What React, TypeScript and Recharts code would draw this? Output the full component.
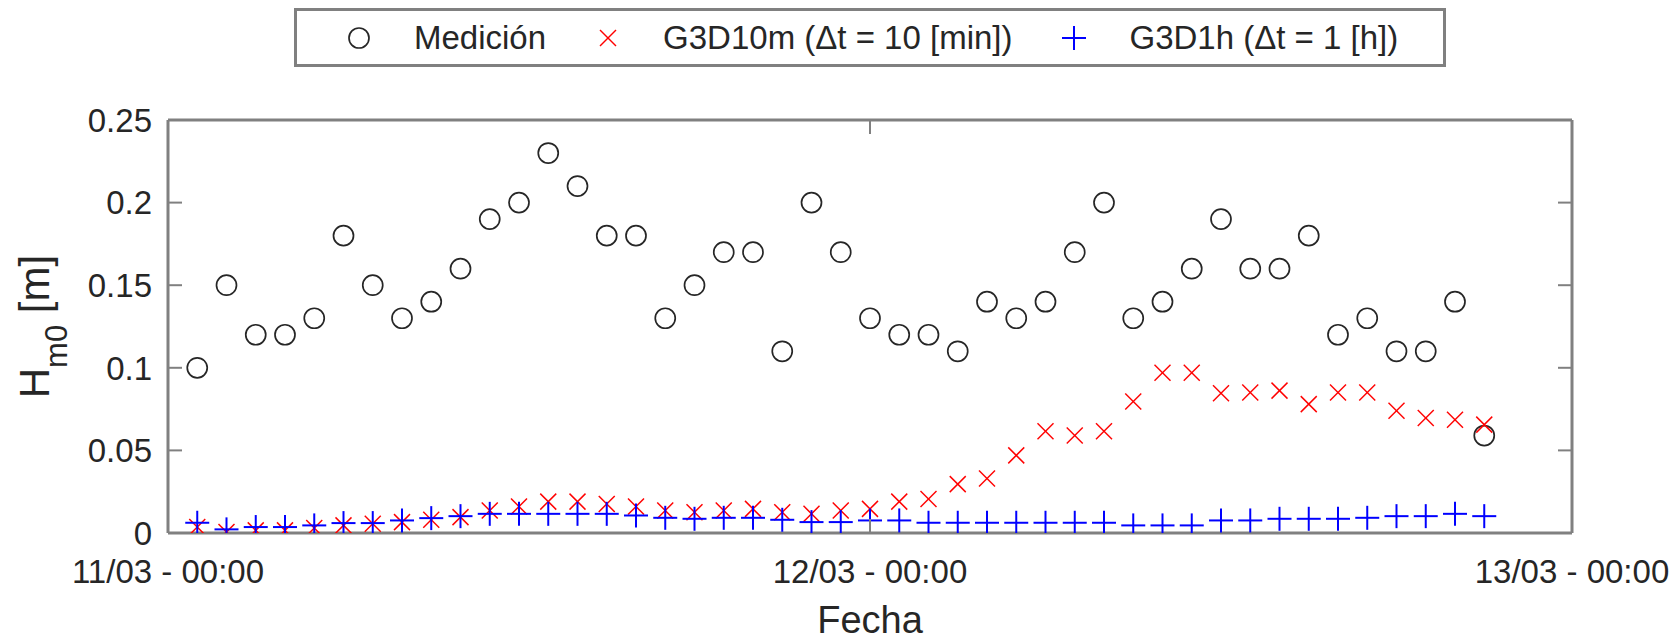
import React from "react";
import {
  ScatterChart,
  Scatter,
  XAxis,
  YAxis,
  Legend,
} from "recharts";

// hours after 11/03 - 00:00
const HOURS = [
  1, 2, 3, 4, 5, 6, 7, 8, 9, 10, 11, 12, 13, 14, 15, 16, 17, 18, 19, 20, 21, 22,
  23, 24, 25, 26, 27, 28, 29, 30, 31, 32, 33, 34, 35, 36, 37, 38, 39, 40, 41, 42,
  43, 44, 45,
];

const MEDICION = [
  0.1, 0.15, 0.12, 0.12, 0.13, 0.18, 0.15, 0.13, 0.14, 0.16, 0.19, 0.2, 0.23,
  0.21, 0.18, 0.18, 0.13, 0.15, 0.17, 0.17, 0.11, 0.2, 0.17, 0.13, 0.12, 0.12,
  0.11, 0.14, 0.13, 0.14, 0.17, 0.2, 0.13, 0.14, 0.16, 0.19, 0.16, 0.16, 0.18,
  0.12, 0.13, 0.11, 0.11, 0.14, 0.059,
];

const G3D10M = [
  0.0036, 0.0006, 0.0016, 0.0016, 0.003, 0.0046, 0.0056, 0.0066, 0.008, 0.0096,
  0.0136, 0.016, 0.019, 0.019, 0.0176, 0.016, 0.0136, 0.0126, 0.0136, 0.0146,
  0.0126, 0.0116, 0.0136, 0.0146, 0.019, 0.0206, 0.0296, 0.033, 0.047, 0.0616,
  0.059, 0.0616, 0.0796, 0.097, 0.097, 0.0846, 0.085, 0.0862, 0.078, 0.085,
  0.085, 0.074, 0.0696, 0.0686, 0.0656,
];

const G3D1H = [
  0.0062, 0.0022, 0.0036, 0.0036, 0.0046, 0.006, 0.006, 0.0076, 0.009, 0.0102,
  0.0116, 0.0116, 0.0116, 0.0116, 0.0116, 0.0106, 0.0092, 0.0086, 0.0092, 0.0092,
  0.008, 0.0066, 0.0066, 0.0076, 0.0076, 0.0062, 0.0062, 0.0062, 0.0062, 0.0062,
  0.0062, 0.0062, 0.0046, 0.0046, 0.0046, 0.0076, 0.0076, 0.0086, 0.0086, 0.0086,
  0.0092, 0.0102, 0.0102, 0.0116, 0.0102,
];

const X_TICKS = [0, 24, 48];
const X_TICK_LABELS = ["11/03 - 00:00", "12/03 - 00:00", "13/03 - 00:00"];
const Y_TICKS = [0, 0.05, 0.1, 0.15, 0.2, 0.25];

const SERIES_NAMES = ["Medición", "G3D10m (Δt = 10 [min])", "G3D1h (Δt = 1 [h])"];

const FONT = "'Liberation Sans', Arial, Helvetica, sans-serif";
const TEXT = "#262626";
const AXIS = "#808080";

const toPoints = (vals: number[]) => HOURS.map((h, i) => ({ h, v: vals[i] }));

const circleShape = (p: any) => (
  <circle cx={p.cx} cy={p.cy} r={10} fill="none" stroke={TEXT} strokeWidth={1.7} />
);

const crossShape = (p: any) => (
  <g stroke="#ff0000" strokeWidth={1.5}>
    <line x1={p.cx - 8} y1={p.cy - 8} x2={p.cx + 8} y2={p.cy + 8} />
    <line x1={p.cx - 8} y1={p.cy + 8} x2={p.cx + 8} y2={p.cy - 8} />
  </g>
);

const plusShape = (p: any) => (
  <g stroke="#0000ff" strokeWidth={2}>
    <line x1={p.cx - 12} y1={p.cy} x2={p.cx + 12} y2={p.cy} />
    <line x1={p.cx} y1={p.cy - 12} x2={p.cx} y2={p.cy + 12} />
  </g>
);

const LeftTick = (p: any) => {
  const { x, y, payload } = p;
  return (
    <g>
      <line x1={x + 16} x2={x + 30} y1={y} y2={y} stroke={AXIS} strokeWidth={2} />
      <text x={x} y={y} dy="0.36em" textAnchor="end" fontSize={33} fill={TEXT} fontFamily={FONT}>
        {payload.value}
      </text>
    </g>
  );
};

const RightTick = (p: any) => (
  <line x1={p.x - 14} x2={p.x} y1={p.y} y2={p.y} stroke={AXIS} strokeWidth={2} />
);

const TopTick = (p: any) => (
  <line x1={p.x} x2={p.x} y1={p.y} y2={p.y + 14} stroke={AXIS} strokeWidth={2} />
);

const BottomTick = (p: any) => {
  const { x, y, payload, index } = p;
  return (
    <g>
      <line x1={x} x2={x} y1={y} y2={y - 14} stroke={AXIS} strokeWidth={2} />
      <text x={x} y={y + 50} textAnchor="middle" fontSize={33} fill={TEXT} fontFamily={FONT}>
        {X_TICK_LABELS[X_TICKS.indexOf(payload.value)] ?? X_TICK_LABELS[index]}
      </text>
    </g>
  );
};

const yLabel = (p: any) => {
  const vb = p.viewBox;
  const bx = vb.x - 59;
  const cy = vb.y + vb.height / 2;
  return (
    <text
      x={bx}
      y={cy}
      transform={`rotate(-90, ${bx}, ${cy})`}
      textAnchor="middle"
      fontSize={42}
      fill={TEXT}
      fontFamily={FONT}
    >
      H
      <tspan fontSize={31} dy={18}>m0</tspan>
      <tspan dy={-18}> [m]</tspan>
    </text>
  );
};

const xLabel = (p: any) => {
  const vb = p.viewBox;
  return (
    <text x={vb.x + vb.width / 2} y={vb.y + 100} textAnchor="middle" fontSize={38} fill={TEXT} fontFamily={FONT}>
      Fecha
    </text>
  );
};

const legendMarker = (i: number) => {
  if (i === 0) return <circle cx={20} cy={20} r={10} fill="none" stroke={TEXT} strokeWidth={1.7} />;
  if (i === 1)
    return (
      <g stroke="#ff0000" strokeWidth={1.5}>
        <line x1={12} y1={12} x2={28} y2={28} />
        <line x1={12} y1={28} x2={28} y2={12} />
      </g>
    );
  return (
    <g stroke="#0000ff" strokeWidth={2}>
      <line x1={8} y1={20} x2={32} y2={20} />
      <line x1={20} y1={8} x2={20} y2={32} />
    </g>
  );
};

const renderLegend = () => (
  <div
    style={{
      boxSizing: "border-box",
      width: 1152,
      height: 59,
      border: `3px solid ${AXIS}`,
      background: "#fff",
      display: "flex",
      alignItems: "center",
      paddingLeft: 42,
      fontFamily: FONT,
      fontSize: 33,
      color: TEXT,
      whiteSpace: "nowrap",
    }}
  >
    {SERIES_NAMES.map((name, i) => (
      <div key={name} style={{ display: "flex", alignItems: "center", marginRight: i < 2 ? 42 : 0 }}>
        <svg width={40} height={40} style={{ marginRight: 35 }}>
          {legendMarker(i)}
        </svg>
        <span>{name}</span>
      </div>
    ))}
  </div>
);

export default function App() {
  return (
    <div style={{ position: "absolute", left: 0, top: 0, width: 1679, height: 642, background: "#fff" }}>
      <ScatterChart
        width={1679}
        height={642}
        margin={{ top: 110, right: 97, bottom: 79, left: 108 }}
      >
        <XAxis
          type="number"
          dataKey="h"
          domain={[0, 48]}
          ticks={X_TICKS}
          allowDataOverflow
          height={30}
          tickSize={0}
          tickMargin={0}
          axisLine={{ stroke: AXIS, strokeWidth: 3 }}
          tick={<BottomTick />}
          interval={0}
          label={{ content: xLabel }}
        />
        <XAxis
          xAxisId="top"
          orientation="top"
          type="number"
          dataKey="h"
          domain={[0, 48]}
          ticks={X_TICKS}
          allowDataOverflow
          height={10}
          tickSize={0}
          tickMargin={0}
          axisLine={{ stroke: AXIS, strokeWidth: 3 }}
          tick={<TopTick />}
          interval={0}
        />
        <YAxis
          type="number"
          dataKey="v"
          domain={[0, 0.25]}
          ticks={Y_TICKS}
          allowDataOverflow
          width={60}
          tickSize={0}
          tickMargin={16}
          axisLine={{ stroke: AXIS, strokeWidth: 3 }}
          tick={<LeftTick />}
          interval={0}
          label={{ content: yLabel }}
        />
        <YAxis
          yAxisId="r"
          orientation="right"
          type="number"
          dataKey="v"
          domain={[0, 0.25]}
          ticks={Y_TICKS}
          allowDataOverflow
          width={10}
          tickSize={0}
          tickMargin={0}
          axisLine={{ stroke: AXIS, strokeWidth: 3 }}
          tick={<RightTick />}
          interval={0}
        />
        <Legend
          layout="horizontal"
          verticalAlign="middle"
          align="center"
          wrapperStyle={{ top: 8, left: 294, width: 1152, height: 59 }}
          content={renderLegend}
        />
        <Scatter name={SERIES_NAMES[0]} data={toPoints(MEDICION)} shape={circleShape} isAnimationActive={false} />
        <Scatter name={SERIES_NAMES[1]} data={toPoints(G3D10M)} shape={crossShape} isAnimationActive={false} />
        <Scatter name={SERIES_NAMES[2]} data={toPoints(G3D1H)} shape={plusShape} isAnimationActive={false} />
      </ScatterChart>
    </div>
  );
}
